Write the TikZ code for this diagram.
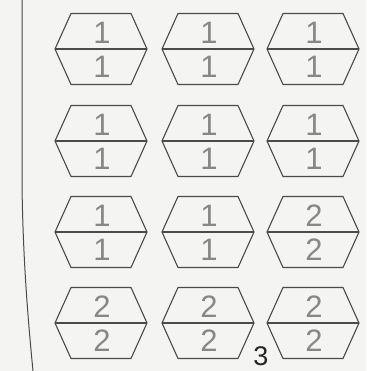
\documentclass[tikz,border=0pt]{standalone}
\usepackage{fontspec}
\setmainfont{Liberation Sans}
\usetikzlibrary{calc}
\definecolor{hexline}{RGB}{75,75,75}
\definecolor{digitgray}{RGB}{135,135,135}
\definecolor{paper}{RGB}{244,244,242}

\begin{document}
\begin{tikzpicture}[x=1pt, y=-1pt,
    hexcell/.style={draw=hexline, line width=1.1pt, line join=miter},
    digit/.style={text=digitgray, inner sep=0pt, font=\fontsize{31}{31}\selectfont},
    pagenum/.style={text=black!85, inner sep=0pt, font=\fontsize{27}{27}\selectfont}]
    \fill[paper] (0,0) rectangle (366,371);
    \useasboundingbox (0,0) rectangle (366,371);

    % --- Margin line ---
    \coordinate (MarginTop) at (22,0);
    \coordinate (MarginMid) at (22,185);
    \coordinate (MarginBot) at (33,371);
    \draw[hexline, line width=1pt] (MarginTop) -- (MarginMid)
        .. controls (23,260) and (28,320) .. (MarginBot);

    % --- Hexagon cells (column x, row y, number) ---
    \foreach \r/\y in {1/49, 2/141, 3/232, 4/323} {
        \foreach \c/\x in {1/101, 2/208, 3/313} {
            \coordinate (H-\r-\c) at (\x,\y);
            \draw[hexcell] (H-\r-\c) ++(-46,0) -- ++(16,-35.5) -- ++(60,0)
                -- ++(16,35.5) -- ++(-16,35.5) -- ++(-60,0) -- cycle;
            \draw[hexcell] (H-\r-\c) ++(-46,0) -- ++(92,0);
        }
    }

    % --- Numbers in the cells ---
    \foreach \r/\c/\v in {1/1/1, 1/2/1, 1/3/1,
                          2/1/1, 2/2/1, 2/3/1,
                          3/1/1, 3/2/1, 3/3/2,
                          4/1/2, 4/2/2, 4/3/2} {
        \node[digit] (Top-\r-\c) at ($(H-\r-\c)+(1,-16)$) {\v};
        \node[digit] (Bot-\r-\c) at ($(H-\r-\c)+(1,18)$) {\v};
    }

    % --- Page number ---
    \node[pagenum] (PageNum) at (261,356) {3};
\end{tikzpicture}
\end{document}
